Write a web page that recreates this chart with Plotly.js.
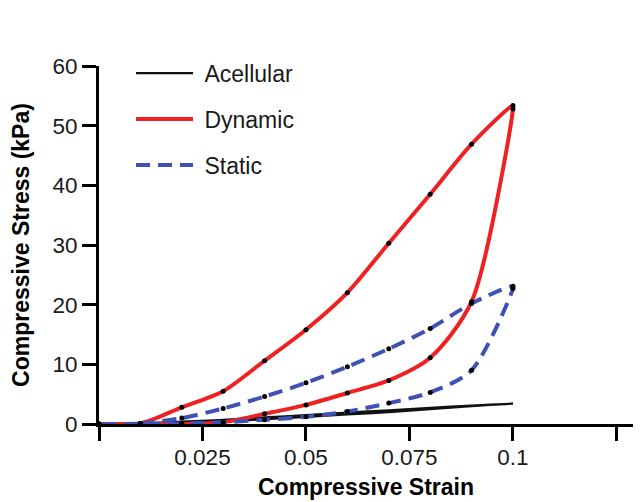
<!DOCTYPE html>
<html>
<head>
<meta charset="utf-8">
<script src="https://cdn.plot.ly/plotly-3.0.1.min.js"></script>
<style>html,body{margin:0;padding:0;background:#fff;}#chart{width:642px;height:502px;}</style>
</head>
<body>
<div id="chart"></div>
<script>
// Strain values: loading 0 -> 0.1, then unloading 0.1 -> 0
const strain = [0, 0.01, 0.02, 0.03, 0.04, 0.05, 0.06, 0.07, 0.08, 0.09, 0.1,
                0.1, 0.09, 0.08, 0.07, 0.06, 0.05, 0.04, 0.03, 0.02, 0.01, 0];
const acellularStress = [0, 0.1, 0.4, 0.7, 1.1, 1.5, 1.9, 2.3, 2.7, 3.1, 3.4,
                         3.4, 3.0, 2.5, 2.0, 1.6, 1.2, 0.8, 0.4, 0.1, 0, 0];
const dynamicStress = [0, 0.1, 2.8, 5.5, 10.6, 15.8, 22.0, 30.3, 38.5, 46.9, 53.4,
                       52.8, 20.5, 11.1, 7.3, 5.2, 3.2, 1.7, 0.3, 0, 0, 0];
const staticStress = [0, 0.1, 1.0, 2.6, 4.6, 6.9, 9.6, 12.6, 16.0, 20.2, 23.1,
                      22.7, 9.0, 5.3, 3.5, 2.1, 1.2, 0.7, 0.3, 0.1, 0, 0];
const seriesNames = ['Acellular', 'Dynamic', 'Static'];
const xTickVals = [0, 0.025, 0.05, 0.075, 0.1, 0.125];
const xTickText = ['', '0.025', '0.05', '0.075', '0.1', '0.125'];
const yTickVals = [0, 10, 20, 30, 40, 50, 60];

const FONT = 'Liberation Sans, Arial, Helvetica, sans-serif';
const NB = '\u00a0';

const traces = [
  {x: strain, y: acellularStress, name: NB + seriesNames[0], mode: 'lines', legendgroup: 'a',
   line: {color: '#111111', width: 2.2, shape: 'spline', smoothing: 0.8}},
  {x: strain, y: dynamicStress, name: NB + seriesNames[1], mode: 'lines', legendgroup: 'd',
   line: {color: '#ee2222', width: 4, shape: 'spline', smoothing: 0.8}},
  {x: strain, y: staticStress, name: NB + seriesNames[2], mode: 'lines', legendgroup: 's',
   line: {color: '#3f51b5', width: 4, dash: '14px,8px', shape: 'spline', smoothing: 0.8}},
  {x: strain, y: dynamicStress, mode: 'markers', showlegend: false, hoverinfo: 'skip',
   marker: {color: '#000', size: 5}},
  {x: strain, y: staticStress, mode: 'markers', showlegend: false, hoverinfo: 'skip',
   marker: {color: '#000', size: 5}}
];

const layout = {
  width: 642, height: 502,
  margin: {l: 99, r: 9, t: 66, b: 78, pad: 0},
  paper_bgcolor: '#fff', plot_bgcolor: '#fff',
  font: {family: FONT, size: 22, color: '#1a1a1a'},
  showlegend: true,
  legend: {x: 0.06, y: 1.04, xanchor: 'left', yanchor: 'top', bgcolor: 'rgba(0,0,0,0)',
           traceorder: 'grouped', tracegroupgap: 13, itemwidth: 57,
           font: {family: FONT, size: 23, color: '#1a1a1a'}},
  xaxis: {range: [0, 0.129], tickmode: 'array', tickvals: xTickVals, ticktext: xTickText,
          showgrid: false, zeroline: false, showline: true, linecolor: '#000', linewidth: 3,
          ticks: 'outside', ticklen: 14, tickwidth: 3, tickcolor: '#000',
          ticklabelstandoff: -3,
          tickfont: {family: FONT, size: 22.5, color: '#1a1a1a'},
          title: {text: '<b>Compressive Strain</b>', font: {family: FONT, size: 23, color: '#000'}, standoff: 10}},
  yaxis: {range: [0, 60], tickmode: 'array', tickvals: yTickVals,
          showgrid: false, zeroline: false, showline: true, linecolor: '#000', linewidth: 3,
          ticks: 'outside', ticklen: 14, tickwidth: 3, tickcolor: '#000',
          tickfont: {family: FONT, size: 22.5, color: '#1a1a1a'},
          title: {text: '<b>Compressive Stress (kPa)</b>', font: {family: FONT, size: 23, color: '#000'}, standoff: 17}}
};

Plotly.newPlot('chart', traces, layout, {staticPlot: true, displayModeBar: false});
</script>
</body>
</html>
